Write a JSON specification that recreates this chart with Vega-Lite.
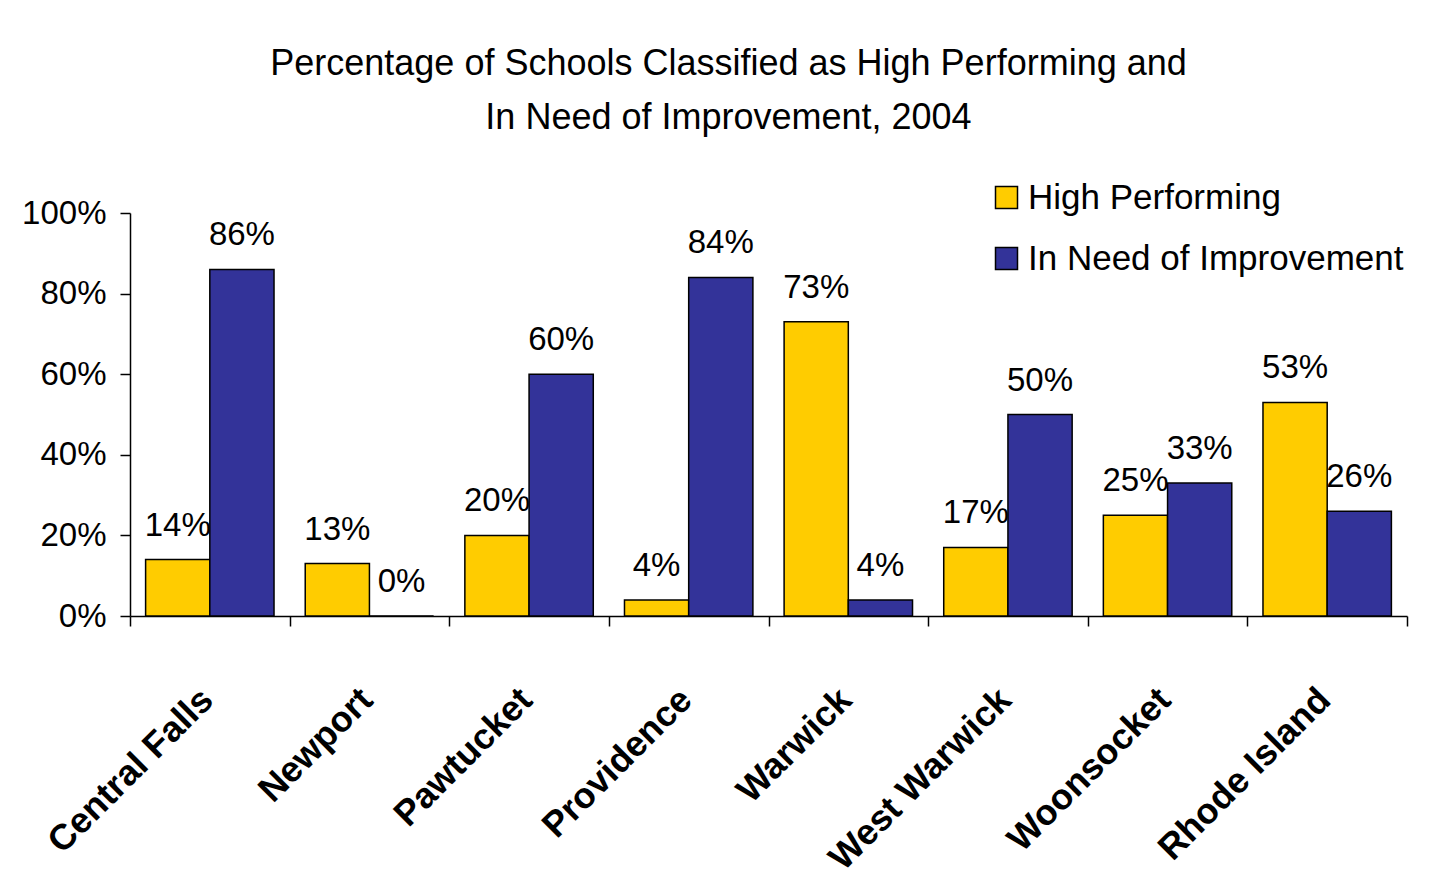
{
  "$schema": "https://vega.github.io/schema/vega-lite/v6.json",
  "autosize": "none",
  "width": 1277,
  "height": 403,
  "padding": {"left": 130, "top": 213, "right": 30, "bottom": 263},
  "background": "white",
  "title": {
    "text": ["Percentage of Schools Classified as High Performing and", "In Need of Improvement, 2004"],
    "anchor": "middle",
    "frame": "group",
    "dx": -40,
    "fontSize": 36,
    "fontWeight": "normal",
    "font": "Liberation Sans",
    "color": "black",
    "lineHeight": 54,
    "offset": 43
  },
  "data": {
    "values": [
      {"city": "Central Falls", "series": "High Performing", "value": 0.14},
      {"city": "Central Falls", "series": "In Need of Improvement", "value": 0.86},
      {"city": "Newport", "series": "High Performing", "value": 0.13},
      {"city": "Newport", "series": "In Need of Improvement", "value": 0.0},
      {"city": "Pawtucket", "series": "High Performing", "value": 0.20},
      {"city": "Pawtucket", "series": "In Need of Improvement", "value": 0.60},
      {"city": "Providence", "series": "High Performing", "value": 0.04},
      {"city": "Providence", "series": "In Need of Improvement", "value": 0.84},
      {"city": "Warwick", "series": "High Performing", "value": 0.73},
      {"city": "Warwick", "series": "In Need of Improvement", "value": 0.04},
      {"city": "West Warwick", "series": "High Performing", "value": 0.17},
      {"city": "West Warwick", "series": "In Need of Improvement", "value": 0.50},
      {"city": "Woonsocket", "series": "High Performing", "value": 0.25},
      {"city": "Woonsocket", "series": "In Need of Improvement", "value": 0.33},
      {"city": "Rhode Island", "series": "High Performing", "value": 0.53},
      {"city": "Rhode Island", "series": "In Need of Improvement", "value": 0.26}
    ]
  },
  "encoding": {
    "x": {
      "field": "city",
      "type": "nominal",
      "sort": null,
      "scale": {"paddingInner": 0, "paddingOuter": 0},
      "axis": {
        "title": null,
        "labelAngle": -45,
        "labelAlign": "right",
        "labelBaseline": "middle",
        "labelFontWeight": "bold",
        "labelFontSize": 36,
        "labelColor": "black",
        "labelPadding": 68,
        "labelOffset": -3,
        "labelLimit": 600,
        "tickBand": "extent",
        "tickSize": 10,
        "tickColor": "black",
        "domainColor": "black",
        "domainWidth": 1.5,
        "tickWidth": 1.5
      }
    },
    "xOffset": {
      "field": "series",
      "type": "nominal",
      "sort": ["High Performing", "In Need of Improvement"],
      "scale": {"paddingInner": 0, "paddingOuter": 0.243}
    },
    "y": {
      "field": "value",
      "type": "quantitative",
      "scale": {"domain": [0, 1], "nice": false},
      "axis": {
        "title": null,
        "values": [0, 0.2, 0.4, 0.6, 0.8, 1],
        "format": ".0%",
        "labelFontSize": 33,
        "labelColor": "black",
        "labelPadding": 14,
        "tickSize": 10,
        "tickColor": "black",
        "domainColor": "black",
        "domainWidth": 1.5,
        "tickWidth": 1.5,
        "grid": false
      }
    }
  },
  "layer": [
    {
      "mark": {"type": "bar", "stroke": "black", "strokeWidth": 1.5},
      "encoding": {
        "color": {
          "field": "series",
          "type": "nominal",
          "scale": {"domain": ["High Performing", "In Need of Improvement"], "range": ["#FFCC00", "#333399"]},
          "legend": {
            "title": null,
            "orient": "none",
            "legendX": 859,
            "legendY": -33,
            "symbolType": "square",
            "symbolSize": 484,
            "symbolStrokeColor": "black",
            "symbolStrokeWidth": 1.5,
            "labelFontSize": 35,
            "labelColor": "black",
            "labelOffset": 4,
            "rowPadding": 25,
            "padding": 0,
            "labelLimit": 600
          }
        }
      }
    },
    {
      "mark": {"type": "text", "baseline": "alphabetic", "dy": -24, "fontSize": 33, "color": "black"},
      "encoding": {
        "text": {"field": "value", "type": "quantitative", "format": ".0%"}
      }
    }
  ],
  "config": {
    "font": "Liberation Sans",
    "view": {"stroke": null},
    "axis": {"labelFont": "Liberation Sans"},
    "legend": {"labelFont": "Liberation Sans"}
  }
}
